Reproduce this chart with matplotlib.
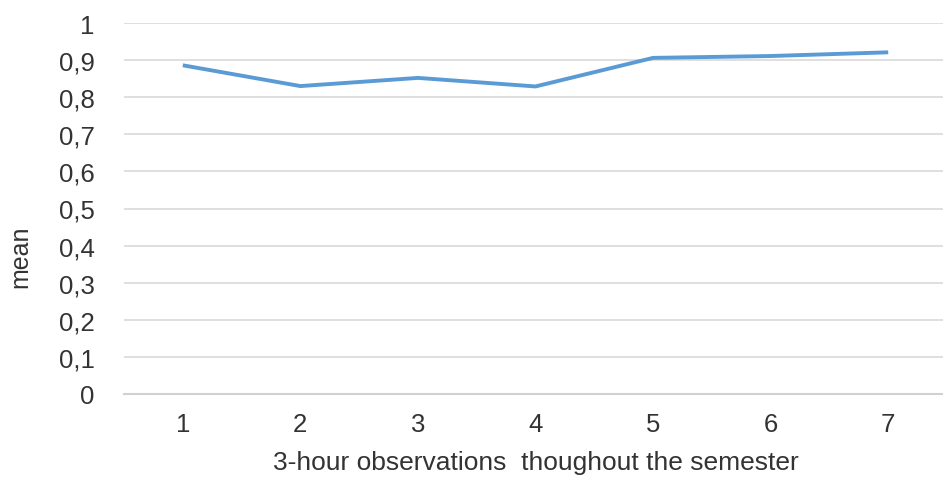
import numpy as np
import matplotlib.pyplot as plt
from matplotlib.ticker import FuncFormatter

# data
observations = [1, 2, 3, 4, 5, 6, 7]
mean_values = [0.886, 0.830, 0.852, 0.829, 0.906, 0.911, 0.921]
y_ticks = np.arange(0, 1.01, 0.1)

plt.rcParams['font.family'] = ['Liberation Sans', 'DejaVu Sans']

fig = plt.figure(figsize=(9.43, 4.81), dpi=100)
ax = fig.add_axes([124/943, 1 - 395/481, (947 - 124)/943, (395 - 24)/481])

ax.plot(observations, mean_values, color='#5b9bd5', linewidth=2.8,
        solid_capstyle='butt', zorder=3)

ax.set_xlim(0.5, 7.5)
ax.set_ylim(0, 1)
ax.set_xticks(observations)
ax.set_yticks(y_ticks)
ax.yaxis.set_major_formatter(FuncFormatter(
    lambda v, p: '0' if abs(v) < 1e-9 else ('1' if abs(v - 1) < 1e-9 else f'{v:.1f}'.replace('.', ','))))

ax.grid(axis='y', color='#d9d9d9', linewidth=1.2)
ax.set_axisbelow(True)
for s in ['top', 'right', 'left']:
    ax.spines[s].set_visible(False)
ax.spines['bottom'].set_color('#d0d0d0')
ax.spines['bottom'].set_linewidth(1.5)

ax.tick_params(axis='both', length=0, labelsize=18.5, colors='#333333')
ax.tick_params(axis='y', pad=21)
ax.tick_params(axis='x', pad=13)

ax.set_xlabel('3-hour observations  thoughout the semester', fontsize=19,
              color='#333333', labelpad=10)
# y label sits a bit below the middle in the original
ax.set_ylabel('mean', fontsize=18, color='#333333', va='center')
ax.yaxis.set_label_coords(-0.126, 0.372)

fig.savefig('out.png', dpi=100)
